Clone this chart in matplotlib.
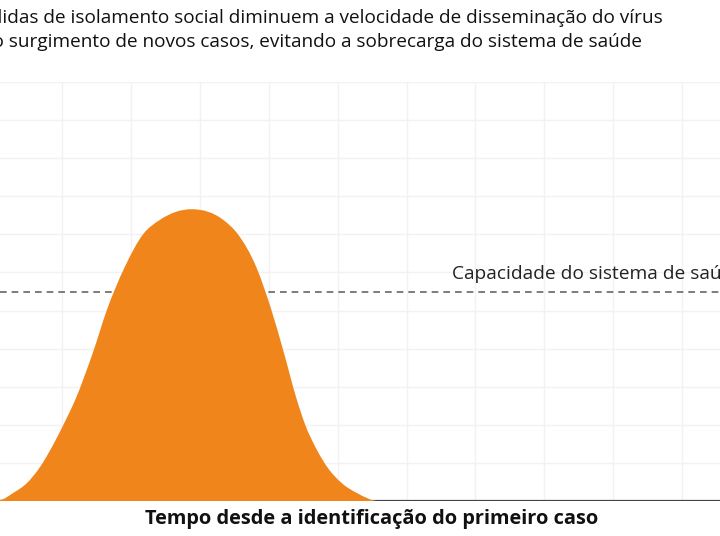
import matplotlib
matplotlib.use("Agg")
import matplotlib.pyplot as plt
import numpy as np
from matplotlib.path import Path
from matplotlib.patches import PathPatch

# curve (grid units: x = time, y = cases)
tempo = [0.10, 0.29, 0.49, 0.68, 0.83, 1.02, 1.19, 1.46, 1.65, 1.91, 2.18,
         2.42, 2.89, 3.34, 3.55, 3.82, 4.04, 4.21, 4.41, 4.53, 4.70, 4.85,
         5.06, 5.28, 5.59]
casos = [0.03, 0.21, 0.47, 0.89, 1.34, 2.00, 2.65, 3.96, 5.01, 6.14, 7.01,
         7.38, 7.66, 7.38, 7.01, 6.14, 5.01, 3.96, 2.65, 2.00, 1.34, 0.89,
         0.47, 0.21, 0.0]
capacidade = 5.5

titulo_l1 = "Medidas de isolamento social diminuem a velocidade de disseminação do vírus"
titulo_l2 = "e o surgimento de novos casos, evitando a sobrecarga do sistema de saúde"
rotulo_cap = "Capacidade do sistema de saúde"
rotulo_x = "Tempo desde a identificação do primeiro caso"

plt.rcParams['font.family'] = ['Open Sans', 'DejaVu Sans']

fig = plt.figure(figsize=(7.2, 5.36), dpi=100)
ax = fig.add_axes([0, 35 / 536, 1, 419 / 536])

ax.set_xlim(0.1, 10.55)
ax.set_ylim(0, 11)
ax.set_xticks(range(1, 11))
ax.set_yticks(range(0, 12))
ax.grid(True, color='#f1f1f6', linewidth=1)
ax.tick_params(length=0, labelbottom=False, labelleft=False)
for s in ax.spines.values():
    s.set_visible(False)
ax.set_axisbelow(True)

ax.axhline(0, color='#444444', linewidth=1.6, zorder=1)
ax.axhline(capacidade, color='#666666', linewidth=1.2, linestyle=(0, (4, 3)), zorder=1)

# smooth outline y(x) through the read points (cubic Hermite as Bezier segments)
x = np.array(tempo)
y = np.array(casos)
m = np.gradient(y, x)
m[0] = m[-1] = 0.0
verts = [(x[0], 0.0), (x[0], y[0])]
codes = [Path.MOVETO, Path.LINETO]
for i in range(len(x) - 1):
    h = x[i + 1] - x[i]
    verts += [(x[i] + h / 3, y[i] + m[i] * h / 3),
              (x[i + 1] - h / 3, y[i + 1] - m[i + 1] * h / 3),
              (x[i + 1], y[i + 1])]
    codes += [Path.CURVE4] * 3
verts += [(x[-1], 0.0), (x[0], 0.0)]
codes += [Path.LINETO, Path.CLOSEPOLY]
ax.add_patch(PathPatch(Path(verts, codes), facecolor='#F0861B',
                       edgecolor='none', zorder=2))

ax.text(6.66, capacidade + 0.22, rotulo_cap, fontsize=13.8, color='#222222',
        ha='left', va='bottom')

fig.text(663 / 720, 1 - 18 / 536, titulo_l1, fontsize=13.72, color='#111111',
         ha='right', va='center')
fig.text(642 / 720, 1 - 42 / 536, titulo_l2, fontsize=13.72, color='#111111',
         ha='right', va='center')
fig.text(372 / 720, 17 / 536, rotulo_x, fontsize=14.4, fontweight='bold',
         color='#111111', ha='center', va='center')

fig.savefig("out.png", dpi=100)
